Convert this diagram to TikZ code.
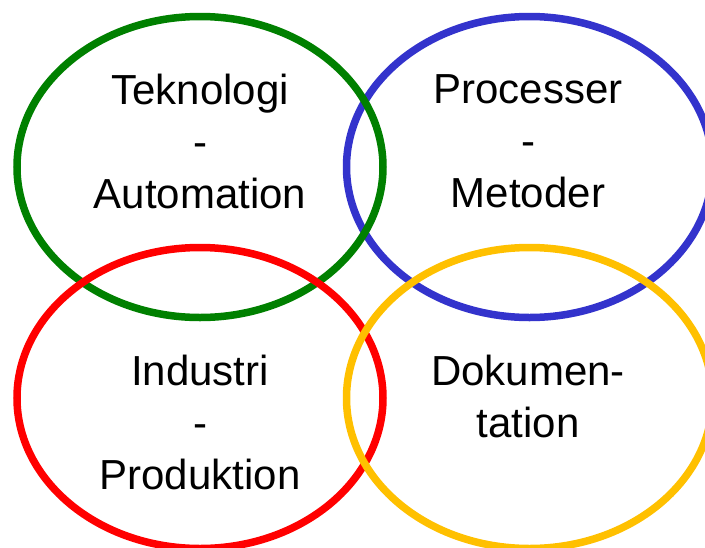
\documentclass[tikz,border=0pt]{standalone}
\usepackage{fontspec}
\setmainfont{Liberation Sans}
\definecolor{ringgreen}{RGB}{0,128,0}
\definecolor{ringblue}{RGB}{51,51,204}
\definecolor{ringred}{RGB}{255,0,0}
\definecolor{ringyellow}{RGB}{255,192,0}
\begin{document}
\begin{tikzpicture}[x=10pt,y=10pt]
    \tikzstyle{every node}+=[inner sep=0pt]
    \tikzstyle{ring}=[line width=7.5pt]
    \tikzstyle{label}=[align=center, font=\fontsize{42}{52}\selectfont]
    \useasboundingbox (0,0) rectangle (70.5,-54.7);
    \draw [ring, ringblue] (52.95,-16.7) ellipse (18.3 and 15.05);
    \draw [ring, ringgreen] (20.0,-16.7) ellipse (18.3 and 15.05);
    \draw [ring, ringred] (20.0,-39.8) ellipse (18.3 and 15.05);
    \draw [ring, ringyellow] (52.95,-39.8) ellipse (18.3 and 15.05);
    \node [label] (tech) at (20.0,-14.15) {Teknologi\\-\\Automation};
    \node [label] (proc) at (52.8,-14.15) {Processer\\-\\Metoder};
    \node [label] (ind) at (20.0,-42.25) {Industri\\-\\Produktion};
    \node [label] (doc) at (52.8,-39.6) {Dokumen-\\tation};
\end{tikzpicture}
\end{document}
